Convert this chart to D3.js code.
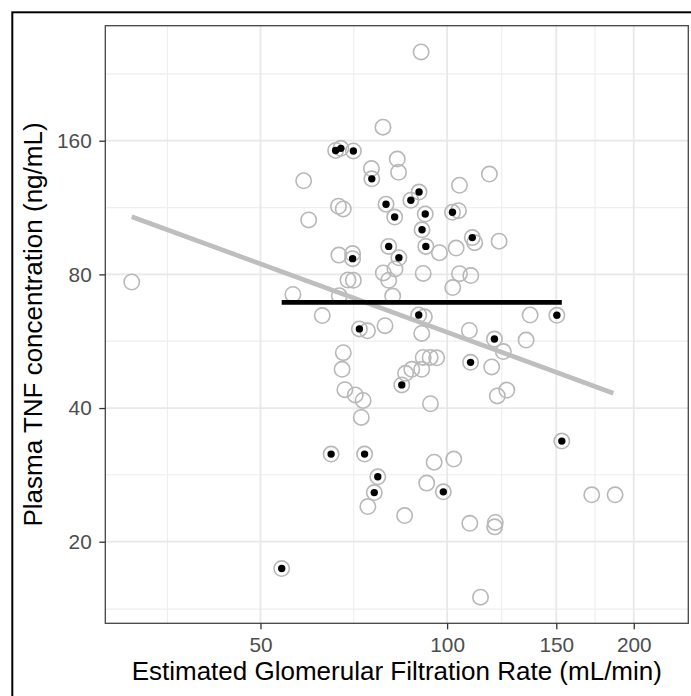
<!DOCTYPE html>
<html><head><meta charset="utf-8">
<script src="https://cdn.jsdelivr.net/npm/d3@7"></script>
<style>html,body{margin:0;padding:0;background:#fff}svg{display:block}</style>
</head><body>
<script>
// Open-only points (eGFR mL/min, TNF ng/mL)
const openEgfr = [90.8,78.8,83.1,83.5,75.5,58.7,117.0,104.7,66.8,68.0,59.8,104.3,110.8,121.3,103.4,97.2,66.9,70.4,78.9,82.4,80.5,91.5,104.7,109.2,69.2,70.6,31.0,102.1,56.4,67.0,81.7,62.9,91.9,136.1,74.4,79.4,91.0,108.6,134.1,123.2,68.0,67.7,91.5,93.9,96.2,91.0,87.7,85.7,118.0,68.4,71.1,73.2,72.7,94.0,120.5,124.8,95.3,102.5,92.7,74.5,85.4,108.8,119.6,119.3,171.1,186.6,113.2];
const openTnf  = [253.5,171.6,145.5,135.8,138.5,130.0,134.6,127.0,113.9,112.3,106.1,111.3,94.3,95.0,91.7,89.5,88.4,89.1,80.6,82.3,77.6,80.4,80.3,79.5,77.7,77.6,76.9,74.7,72.1,71.6,71.5,64.6,64.2,64.8,59.7,61.3,58.9,59.8,56.9,53.6,53.3,48.9,52.0,52.0,51.9,48.9,48.9,47.9,49.5,44.0,42.8,41.6,38.1,40.9,42.6,43.9,30.2,30.7,27.1,24.0,22.9,22.0,22.1,21.6,25.5,25.5,15.0];
// Highlighted points (black dot inside ring)
const dotEgfr = [66.1,67.4,70.6,75.6,90.1,87.4,79.7,82.3,92.2,102.0,91.1,109.8,80.5,92.4,70.4,83.6,90.0,150.3,72.2,119.2,109.1,84.5,65.0,73.6,153.1,77.3,76.3,98.6,54.1];
const dotTnf  = [152.1,153.8,151.7,131.3,122.6,117.5,115.1,107.7,109.4,110.4,100.8,96.8,92.5,92.5,86.8,87.2,64.8,64.7,60.3,57.2,50.7,45.1,31.5,31.5,33.7,28.0,25.8,25.9,17.4];
// Regression line (all points) and group reference line
const fitEgfr = [31.0, 185.4];
const fitTnf  = [107.9, 43.2];
const refEgfr = [54.1, 153.1];
const refTnf  = [69.2, 69.2];
// Axes
const xTicks = [50, 100, 150, 200];
const yTicks = [20, 40, 80, 160];
const xMinor = [35.4, 70.7, 122.5, 173.2];
const yMinor = [14.1, 28.3, 56.6, 113.1, 226.3];
const xLimits = [28.1, 244.9];
const yLimits = [13.1, 290.5];
const xTitle = "Estimated Glomerular Filtration Rate (mL/min)";
const yTitle = "Plasma TNF concentration (ng/mL)";

const W = 691, H = 696;
const P = {l: 105.3, r: 688.3, t: 25.7, b: 623.3};
const FONT = "'Liberation Sans', Arial, Helvetica, sans-serif";

const svg = d3.select("body").append("svg").attr("width", W).attr("height", H);
svg.append("rect").attr("width", W).attr("height", H).attr("fill", "#fff");
// outer frame
svg.append("rect").attr("x", 12.3).attr("y", 12.3).attr("width", 700).attr("height", 700)
  .attr("fill", "none").attr("stroke", "#000").attr("stroke-width", 2);

const x = d3.scaleLog().domain(xLimits).range([P.l, P.r]);
const y = d3.scaleLog().domain(yLimits).range([P.b, P.t]);

const g = svg.append("g");
// minor grid
g.selectAll(".xm").data(xMinor).join("line")
  .attr("x1", d => x(d)).attr("x2", d => x(d)).attr("y1", P.t).attr("y2", P.b)
  .attr("stroke", "#eeeeee").attr("stroke-width", 1.1);
g.selectAll(".ym").data(yMinor).join("line")
  .attr("y1", d => y(d)).attr("y2", d => y(d)).attr("x1", P.l).attr("x2", P.r)
  .attr("stroke", "#eeeeee").attr("stroke-width", 1.1);
// major grid
g.selectAll(".xM").data(xTicks).join("line")
  .attr("x1", d => x(d)).attr("x2", d => x(d)).attr("y1", P.t).attr("y2", P.b)
  .attr("stroke", "#e8e8e8").attr("stroke-width", 1.8);
g.selectAll(".yM").data(yTicks).join("line")
  .attr("y1", d => y(d)).attr("y2", d => y(d)).attr("x1", P.l).attr("x2", P.r)
  .attr("stroke", "#e8e8e8").attr("stroke-width", 1.8);

const allEgfr = openEgfr.concat(dotEgfr);
const allTnf = openTnf.concat(dotTnf);
const ringData = allEgfr.map((e, i) => [e, allTnf[i]]);
const dotData = dotEgfr.map((e, i) => [e, dotTnf[i]]);

g.selectAll(".ring").data(ringData).join("circle")
  .attr("cx", d => x(d[0])).attr("cy", d => y(d[1])).attr("r", 7.7)
  .attr("fill", "none").attr("stroke", "#b8b8b8").attr("stroke-width", 1.6);

const line = d3.line().x(d => x(d[0])).y(d => y(d[1]));
g.append("path").attr("d", line(fitEgfr.map((e, i) => [e, fitTnf[i]])))
  .attr("fill", "none").attr("stroke", "#bebebe").attr("stroke-width", 4.7);
g.append("path").attr("d", line(refEgfr.map((e, i) => [e, refTnf[i]])))
  .attr("fill", "none").attr("stroke", "#000").attr("stroke-width", 4.7);

g.selectAll(".dot").data(dotData).join("circle")
  .attr("cx", d => x(d[0])).attr("cy", d => y(d[1])).attr("r", 3.7)
  .attr("fill", "#000");

// panel border
svg.append("rect").attr("x", P.l).attr("y", P.t).attr("width", P.r - P.l).attr("height", P.b - P.t)
  .attr("fill", "none").attr("stroke", "#444").attr("stroke-width", 1.3);

// axes
const xAxis = svg.append("g").attr("transform", `translate(0,${P.b})`)
  .call(d3.axisBottom(x).tickValues(xTicks).tickFormat(d3.format("d")).tickSize(6).tickPadding(7.7));
const yAxis = svg.append("g").attr("transform", `translate(${P.l},0)`)
  .call(d3.axisLeft(y).tickValues(yTicks).tickFormat(d3.format("d")).tickSize(6).tickPadding(7.6));
[xAxis, yAxis].forEach(a => {
  a.select(".domain").remove();
  a.selectAll(".tick line").attr("stroke", "#333").attr("stroke-width", 1.3);
  a.selectAll(".tick text").attr("fill", "#4d4d4d").style("font-family", FONT).style("font-size", "20.8px");
});

svg.append("text").attr("x", (P.l + P.r) / 2).attr("y", 680).attr("text-anchor", "middle")
  .style("font-family", FONT).style("font-size", "26px").attr("fill", "#000").text(xTitle);
svg.append("text").attr("transform", `translate(42,${(P.t + P.b) / 2}) rotate(-90)`).attr("text-anchor", "middle")
  .style("font-family", FONT).style("font-size", "26px").attr("fill", "#000").text(yTitle);
</script>
</body></html>
